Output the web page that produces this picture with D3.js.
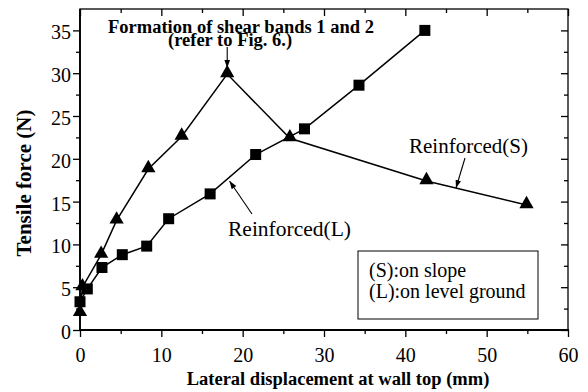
<!DOCTYPE html>
<html>
<head>
<meta charset="utf-8">
<script src="https://cdn.jsdelivr.net/npm/d3@7"></script>
<style>
  body { margin: 0; background: #fff; }
  svg { display: block; }
</style>
</head>
<body>
<svg id="chart" width="588" height="392" font-family="Liberation Serif"></svg>
<script>

// Reinforced (L): on level ground -- squares
var level_x = [0, 0.9, 2.7, 5.2, 8.2, 10.9, 16.0, 21.6, 27.6, 34.3, 42.4]
var level_y = [3.3, 4.8, 7.3, 8.8, 9.8, 13.0, 15.9, 20.5, 23.5, 28.6, 35.0]

// Reinforced (S): on slope -- triangles
var slope_x = [0, 0.3, 2.6, 4.5, 8.4, 12.5, 18.1, 25.8, 42.6, 54.9]
var slope_y = [2.0, 5.0, 8.8, 12.8, 18.8, 22.6, 29.9, 22.4, 17.4, 14.6]

var x_ticks = [0, 10, 20, 30, 40, 50, 60]
var x_minor = [5, 15, 25, 35, 45, 55]
var y_ticks = [0, 5, 10, 15, 20, 25, 30, 35]
var y_minor = [2.5, 7.5, 12.5, 17.5, 22.5, 27.5, 32.5]

var x_label = "Lateral displacement at wall top (mm)"
var y_label = "Tensile force (N)"
var note_lines = ["Formation of shear bands 1 and 2", "(refer to Fig. 6.)"]
var legend_lines = ["(S):on slope", "(L):on level ground"]

var FONT = "Liberation Serif"

var svg = d3.select("#chart")

var x = d3.scaleLinear().domain([0, 60]).range([80, 568])
var y = d3.scaleLinear().domain([0, 37.5]).range([330, 9])

// arrow head
svg.append("defs").append("marker")
    .attr("id", "arrow")
    .attr("viewBox", "0 0 10 10")
    .attr("refX", 10).attr("refY", 5)
    .attr("markerWidth", 8).attr("markerHeight", 8)
    .attr("markerUnits", "userSpaceOnUse")
    .attr("orient", "auto")
  .append("path")
    .attr("d", "M0,1.5 L10,5 L0,8.5 Z")
    .attr("fill", "#000")

// *** AXES ***

function style_axis(g){
  g.attr("font-family", FONT).attr("font-size", 20)
  g.selectAll(".domain").remove()
  g.selectAll("line").attr("stroke", "#000").attr("stroke-width", 1.3)
  g.selectAll("text").attr("fill", "#000").attr("font-family", FONT).attr("font-size", 20)
}

svg.append("g").attr("transform", "translate(0,330)")
    .call(d3.axisBottom(x).tickValues(x_ticks).tickSize(7).tickPadding(10.5).tickFormat(d3.format("d")))
    .call(style_axis)
svg.append("g").attr("transform", "translate(0,330)")
    .call(d3.axisBottom(x).tickValues(x_minor).tickSize(4).tickFormat(""))
    .call(style_axis)

svg.append("g").attr("transform", "translate(80,0)")
    .call(d3.axisLeft(y).tickValues(y_ticks).tickSize(7).tickPadding(2).tickFormat(d3.format("d")))
    .call(style_axis)
    .selectAll("text").attr("dy", "0.42em")
svg.append("g").attr("transform", "translate(80,0)")
    .call(d3.axisLeft(y).tickValues(y_minor).tickSize(4).tickFormat(""))
    .call(style_axis)

// inward ticks on top and right
svg.append("g").attr("transform", "translate(0,9)")
    .call(d3.axisTop(x).tickValues(x_ticks).tickSize(-7).tickFormat(""))
    .call(style_axis)
svg.append("g").attr("transform", "translate(0,9)")
    .call(d3.axisTop(x).tickValues(x_minor).tickSize(-4).tickFormat(""))
    .call(style_axis)
svg.append("g").attr("transform", "translate(568,0)")
    .call(d3.axisRight(y).tickValues(y_ticks).tickSize(-7).tickFormat(""))
    .call(style_axis)
svg.append("g").attr("transform", "translate(568,0)")
    .call(d3.axisRight(y).tickValues(y_minor).tickSize(-4).tickFormat(""))
    .call(style_axis)

// frame
svg.append("rect")
    .attr("x", x(0)).attr("y", y(37.5))
    .attr("width", x(60) - x(0)).attr("height", y(0) - y(37.5))
    .attr("fill", "none").attr("stroke", "#000").attr("stroke-width", 1.3)
svg.append("line")
    .attr("x1", x(0) - 1).attr("x2", x(60) + 1)
    .attr("y1", y(0)).attr("y2", y(0))
    .attr("stroke", "#000").attr("stroke-width", 2.2)
svg.append("line")
    .attr("x1", x(0)).attr("x2", x(0))
    .attr("y1", y(0)).attr("y2", y(37.5))
    .attr("stroke", "#000").attr("stroke-width", 1.8)

// axis titles
svg.append("text")
    .attr("x", 338).attr("y", 385)
    .attr("text-anchor", "middle")
    .attr("font-family", FONT).attr("font-weight", "bold").attr("font-size", 18.5)
    .text(x_label)

svg.append("text")
    .attr("transform", "translate(31,183) rotate(-90)")
    .attr("text-anchor", "middle")
    .attr("font-family", FONT).attr("font-weight", "bold").attr("font-size", 21)
    .text(y_label)

// *** SERIES ***

var line = d3.line().x(function(d){ return x(d[0]) }).y(function(d){ return y(d[1]) })

var level_data = level_x.map(function(v, i){ return [v, level_y[i]] })
var slope_data = slope_x.map(function(v, i){ return [v, slope_y[i]] })

svg.append("path").datum(level_data)
    .attr("d", line).attr("fill", "none").attr("stroke", "#000").attr("stroke-width", 1.5)
svg.append("path").datum(slope_data)
    .attr("d", line).attr("fill", "none").attr("stroke", "#000").attr("stroke-width", 1.5)

svg.selectAll(".sq").data(level_data)
  .enter().append("rect")
    .attr("class", "sq")
    .attr("x", function(d){ return x(d[0]) - 5.5 })
    .attr("y", function(d){ return y(d[1]) - 5.5 })
    .attr("width", 11).attr("height", 11)
    .attr("fill", "#000")

var tri = d3.symbol().type(d3.symbolTriangle).size(88)
svg.selectAll(".tri").data(slope_data)
  .enter().append("path")
    .attr("class", "tri")
    .attr("d", tri)
    .attr("transform", function(d){ return "translate(" + x(d[0]) + "," + (y(d[1]) - 1) + ")" })
    .attr("fill", "#000")

// *** ANNOTATIONS ***

svg.append("text")
    .attr("x", 108).attr("y", 33)
    .attr("font-family", FONT).attr("font-weight", "bold").attr("font-size", 18.5)
    .text(note_lines[0])
svg.append("text")
    .attr("x", 168).attr("y", 46)
    .attr("font-family", FONT).attr("font-weight", "bold").attr("font-size", 18.5)
    .text(note_lines[1])

svg.append("line")
    .attr("x1", x(18.1)).attr("y1", 47)
    .attr("x2", x(18.1)).attr("y2", 68)
    .attr("stroke", "#000").attr("stroke-width", 1.1)
    .attr("marker-end", "url(#arrow)")

svg.append("text")
    .attr("x", 228).attr("y", 236)
    .attr("font-family", FONT).attr("font-size", 21.5)
    .text("Reinforced(L)")
svg.append("line")
    .attr("x1", 252).attr("y1", 214)
    .attr("x2", 229.5).attr("y2", 181)
    .attr("stroke", "#000").attr("stroke-width", 1.1)
    .attr("marker-end", "url(#arrow)")

svg.append("text")
    .attr("x", 409).attr("y", 153)
    .attr("font-family", FONT).attr("font-size", 21)
    .text("Reinforced(S)")
svg.append("line")
    .attr("x1", 465).attr("y1", 158)
    .attr("x2", 456).attr("y2", 188)
    .attr("stroke", "#000").attr("stroke-width", 1.1)
    .attr("marker-end", "url(#arrow)")

// legend box
svg.append("rect")
    .attr("x", 358).attr("y", 251)
    .attr("width", 180).attr("height", 68)
    .attr("fill", "#fff").attr("stroke", "#000").attr("stroke-width", 1)

svg.selectAll(".legend_text").data(legend_lines)
  .enter().append("text")
    .attr("class", "legend_text")
    .attr("x", 369)
    .attr("y", function(d, i){ return 277 + i * 21 })
    .attr("font-family", FONT).attr("font-size", 20)
    .text(function(d){ return d })

</script>
</body>
</html>
